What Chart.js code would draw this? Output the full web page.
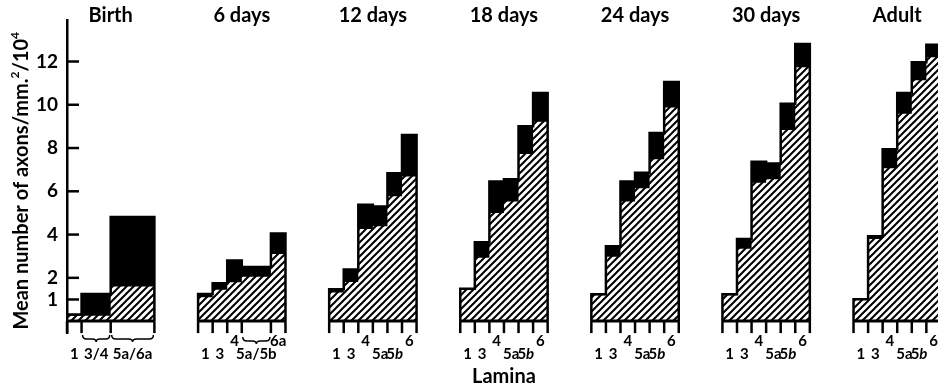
<!DOCTYPE html>
<html>
<head>
<meta charset="utf-8">
<script src="https://cdn.jsdelivr.net/npm/chart.js@4.4.1/dist/chart.umd.min.js"></script>
<style>
  html, body { margin: 0; padding: 0; background: #fff; overflow: hidden; }
  canvas { display: block; }
</style>
</head>
<body>
<canvas id="axonChart" width="938" height="390"></canvas>
<script>
// age of the animals, one block of bars each
const ages = ['Birth', '6 days', '12 days', '18 days', '24 days', '30 days', 'Adult'];
// start of each block on the x axis, in lamina-width units
const ageStart = [0, 9, 18, 27, 36, 45, 54];
// width of each lamina column inside a block
const laminaWidths = [
  [1, 2, 3],
  [1, 1, 1, 2, 1],
  [1, 1, 1, 1, 1, 1],
  [1, 1, 1, 1, 1, 1],
  [1, 1, 1, 1, 1, 1],
  [1, 1, 1, 1, 1, 1],
  [1, 1, 1, 1, 1, 1]
];
const laminaLabels = [
  ['1', '3/4', '5a/6a'],
  ['1', '3', '4', '5a/5b', '6a'],
  ['1', '3', '4', '5a', '5b', '6'],
  ['1', '3', '4', '5a', '5b', '6'],
  ['1', '3', '4', '5a', '5b', '6'],
  ['1', '3', '4', '5a', '5b', '6'],
  ['1', '3', '4', '5a', '5b', '6']
];
// hatched part of each bar (axons/mm2/10^4)
const hatchedValues = [
  [0.25, 0.25, 1.6],
  [1.1, 1.45, 1.8, 2.05, 3.1],
  [1.32, 1.81, 4.26, 4.38, 5.77, 6.68],
  [1.45, 2.93, 5.0, 5.53, 7.72, 9.21],
  [1.2, 2.97, 5.53, 6.14, 7.48, 9.87],
  [1.2, 3.34, 6.4, 6.56, 8.83, 11.74],
  [0.97, 3.8, 7.07, 9.59, 11.13, 12.2]
];
// total height of each bar (hatched + black)
const totalValues = [
  [0.3, 1.25, 4.81],
  [1.25, 1.75, 2.8, 2.5, 4.05],
  [1.47, 2.39, 5.38, 5.3, 6.84, 8.6],
  [1.5, 3.65, 6.45, 6.56, 9.01, 10.54],
  [1.24, 3.46, 6.45, 6.86, 8.7, 11.05],
  [1.24, 3.8, 7.37, 7.29, 10.05, 12.81],
  [1.01, 3.92, 7.94, 10.54, 11.97, 12.78]
];
const yTicks = [1, 2, 4, 6, 8, 10, 12];
// [block, lamina] pairs that get a brace underneath
const braces = [[0, 1], [0, 2], [1, 3]];

const FONT = 'Lato, "Open Sans", sans-serif';

function makeHatch() {
  const s = 7;
  const c = document.createElement('canvas');
  c.width = s; c.height = s;
  const g = c.getContext('2d');
  g.fillStyle = '#fff';
  g.fillRect(0, 0, s, s);
  g.strokeStyle = '#000';
  g.lineWidth = 2;
  g.beginPath();
  g.moveTo(-1, s + 1); g.lineTo(s + 1, -1);
  g.moveTo(-1, 1); g.lineTo(1, -1);
  g.moveTo(s - 1, s + 1); g.lineTo(s + 1, s - 1);
  g.stroke();
  return g.createPattern(c, 'repeat');
}
const hatch = makeHatch();

// corner points of a block of stepped bars
function stepPoints(g, values) {
  const pts = [];
  let x = ageStart[g];
  pts.push({ x: x, y: 0 });
  values.forEach((v, i) => {
    pts.push({ x: x, y: v });
    x += laminaWidths[g][i];
    pts.push({ x: x, y: v });
  });
  pts.push({ x: x, y: 0 });
  return pts;
}

const datasets = [];
ages.forEach((age, g) => {
  datasets.push({
    label: age + ' hatched',
    data: stepPoints(g, hatchedValues[g]),
    order: 0,
    fill: 'origin',
    backgroundColor: hatch,
    borderColor: 'rgba(0,0,0,0)',
    borderWidth: 0,
    pointRadius: 0,
    tension: 0
  });
  datasets.push({
    label: age + ' total',
    data: stepPoints(g, totalValues[g]),
    order: 1,
    fill: 'origin',
    backgroundColor: '#000',
    borderColor: '#000',
    borderWidth: 2.5,
    borderJoinStyle: 'miter',
    pointRadius: 0,
    tension: 0
  });
});

function drawRuns(ctx, runs, x, y, size) {
  // runs: [text, superscript?, italic?]
  let cx = x;
  runs.forEach(([t, sup, ital]) => {
    const s = sup ? Math.round(size * 0.62) : size;
    ctx.font = (ital ? 'italic ' : '') + 'bold ' + s + 'px ' + FONT;
    ctx.fillText(t, cx, sup ? y - size * 0.45 : y);
    cx += ctx.measureText(t).width;
  });
  return cx - x;
}
function runsWidth(ctx, runs, size) {
  let w = 0;
  runs.forEach(([t, sup, ital]) => {
    const s = sup ? Math.round(size * 0.62) : size;
    ctx.font = (ital ? 'italic ' : '') + 'bold ' + s + 'px ' + FONT;
    w += ctx.measureText(t).width;
  });
  return w;
}

const decorations = {
  id: 'decorations',
  afterDatasetsDraw(chart) {
    const ctx = chart.ctx;
    const xs = chart.scales.x, ys = chart.scales.y;
    const area = chart.chartArea;
    const y0 = ys.getPixelForValue(0);
    ctx.save();
    ctx.strokeStyle = '#000';
    ctx.fillStyle = '#000';

    // y tick marks pointing inwards
    ctx.lineWidth = 2.5;
    yTicks.forEach(v => {
      const py = ys.getPixelForValue(v);
      ctx.beginPath();
      ctx.moveTo(area.left, py);
      ctx.lineTo(area.left + 12, py);
      ctx.stroke();
    });

    ages.forEach((age, g) => {
      const widths = laminaWidths[g];
      const end = ageStart[g] + widths.reduce((a, b) => a + b, 0);
      // baseline and lamina ticks
      ctx.lineWidth = 3;
      ctx.beginPath();
      ctx.moveTo(xs.getPixelForValue(ageStart[g]), y0);
      ctx.lineTo(xs.getPixelForValue(end), y0);
      ctx.stroke();
      ctx.lineWidth = 2.5;
      let x = ageStart[g];
      for (let i = 0; i <= widths.length; i++) {
        const px = xs.getPixelForValue(x);
        ctx.beginPath();
        ctx.moveTo(px, y0);
        ctx.lineTo(px, y0 + 12);
        ctx.stroke();
        if (i < widths.length) x += widths[i];
      }
      // lamina labels
      x = ageStart[g];
      laminaLabels[g].forEach((lab, i) => {
        const cx = xs.getPixelForValue(x + widths[i] / 2);
        const raised = (lab === '4' || lab === '6' || lab === '6a');
        const runs = (lab === '5b' && g > 1) ? [['5'], ['b', false, true]] : [[lab]];
        const size = 15;
        const w = runsWidth(ctx, runs, size);
        ctx.textBaseline = 'alphabetic';
        ctx.textAlign = 'left';
        drawRuns(ctx, runs, cx - w / 2, raised ? 346 : 359, size);
        x += widths[i];
      });
      // age title
      ctx.font = 'bold 20px ' + FONT;
      ctx.textAlign = 'center';
      ctx.fillText(age, xs.getPixelForValue((ageStart[g] + end) / 2), 22);
    });

    // braces under merged laminae
    ctx.lineWidth = 1.5;
    braces.forEach(([g, i]) => {
      let a = ageStart[g];
      for (let k = 0; k < i; k++) a += laminaWidths[g][k];
      const x1 = xs.getPixelForValue(a) + 1;
      const x2 = xs.getPixelForValue(a + laminaWidths[g][i]) - 1;
      const xm = (x1 + x2) / 2;
      const top = g === 0 ? 335 : 337, mid = top + 4, tip = top + 7;
      ctx.beginPath();
      ctx.moveTo(x1, top);
      ctx.quadraticCurveTo(x1, mid, x1 + 4, mid);
      ctx.lineTo(xm - 4, mid);
      ctx.quadraticCurveTo(xm, mid, xm, tip);
      ctx.quadraticCurveTo(xm, mid, xm + 4, mid);
      ctx.lineTo(x2 - 4, mid);
      ctx.quadraticCurveTo(x2, mid, x2, top);
      ctx.stroke();
    });

    // x axis title
    ctx.font = 'bold 20px ' + FONT;
    ctx.textAlign = 'center';
    ctx.fillText('Lamina', xs.getPixelForValue(30), 383);

    // y axis title, rotated
    const titleRuns = [['Mean number of axons/mm.'], ['2', true], ['/10'], ['4', true]];
    ctx.translate(28, (area.top + y0) / 2 + 10);
    ctx.rotate(-Math.PI / 2);
    ctx.textAlign = 'left';
    const tw = runsWidth(ctx, titleRuns, 20);
    drawRuns(ctx, titleRuns, -tw / 2, 0, 20);
    ctx.restore();
  }
};

new Chart(document.getElementById('axonChart'), {
  type: 'line',
  data: { datasets: datasets },
  options: {
    responsive: false,
    devicePixelRatio: 1,
    animation: false,
    layout: { padding: { top: 20, bottom: 57, left: 0, right: 0 } },
    plugins: {
      legend: { display: false },
      tooltip: { enabled: false },
      filler: { drawTime: 'beforeDatasetsDraw' }
    },
    scales: {
      x: {
        type: 'linear',
        display: false,
        min: 0,
        max: 59.8
      },
      y: {
        min: -0.55,
        max: 13.9,
        afterFit(scale) { scale.width = 67; },
        afterBuildTicks(scale) { scale.ticks = yTicks.map(v => ({ value: v })); },
        grid: { display: false, drawTicks: false },
        border: { display: true, color: '#000', width: 2.5 },
        ticks: {
          padding: 9,
          color: '#000',
          font: { family: FONT, weight: 'bold', size: 19 }
        }
      }
    }
  },
  plugins: [decorations]
});
</script>
</body>
</html>
